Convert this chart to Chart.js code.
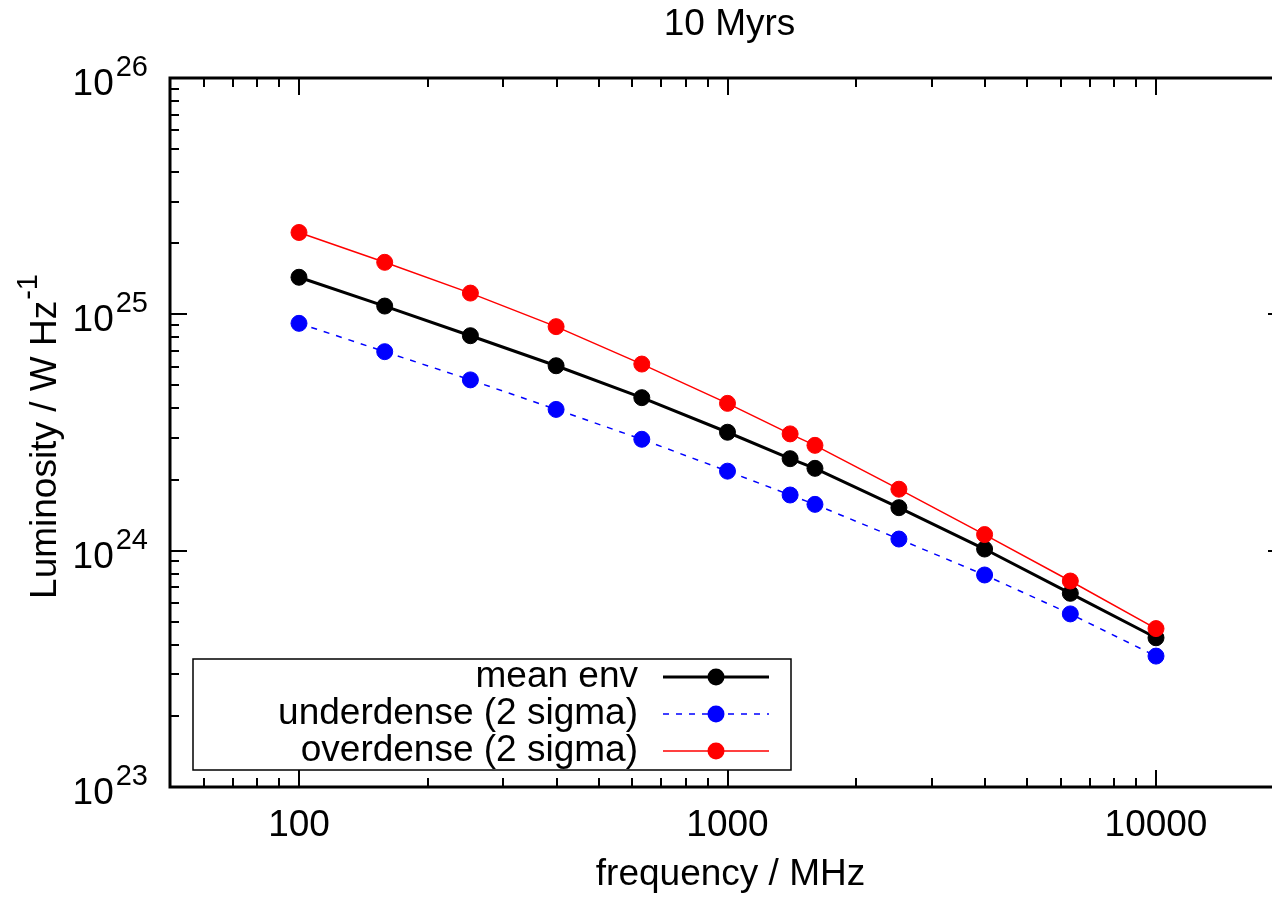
<!doctype html>
<html lang="en">
<head>
  <meta charset="utf-8">
  <title>10 Myrs</title>
  <style>
    * {
      margin: 0;
      padding: 0;
    }
    body {
      background: white;
      overflow: hidden;
    }
    .chartBox {
      width: 1300px;
      height: 904px;
    }
  </style>
</head>
<body>
  <div class="chartBox">
    <canvas id="myChart"></canvas>
  </div>

  <script src="https://cdn.jsdelivr.net/npm/chart.js"></script>
  <script>
    // frequencies in MHz
    const freqs = [100, 158.5, 251.2, 398.1, 631, 1000, 1400, 1600, 2512, 3981, 6310, 10000];

    // luminosity in W/Hz for each environment
    const meanEnv    = [1.435e25, 1.084e25, 8.12e24, 6.06e24, 4.44e24, 3.17e24, 2.45e24, 2.23e24, 1.52e24, 1.016e24, 6.60e23, 4.28e23];
    const underdense = [9.16e24, 6.95e24, 5.28e24, 3.96e24, 2.96e24, 2.17e24, 1.72e24, 1.57e24, 1.12e24, 7.89e23, 5.40e23, 3.58e23];
    const overdense  = [2.22e25, 1.66e25, 1.23e25, 8.87e24, 6.16e24, 4.20e24, 3.12e24, 2.79e24, 1.82e24, 1.17e24, 7.44e23, 4.68e23];

    // labelled ticks
    const xTickLabels = [100, 1000, 10000];
    const yTickExps = [23, 24, 25, 26];

    const FONT = "'Liberation Sans', Arial, Helvetica, sans-serif";
    const BIG = '37px ' + FONT;
    const SUP = '29px ' + FONT;

    function points(vals) {
      return freqs.map((f, i) => ({ x: f, y: vals[i] }));
    }

    function series(label, vals, color, width, dash, order) {
      return {
        label: label,
        data: points(vals),
        borderColor: color,
        backgroundColor: color,
        borderWidth: width,
        borderDash: dash,
        pointRadius: 8,
        pointHoverRadius: 8,
        pointBorderWidth: 1,
        pointBackgroundColor: color,
        pointBorderColor: color,
        tension: 0,
        order: order
      };
    }

    // gnuplot style frame, inward ticks, tick labels, titles and key
    const gnuFrame = {
      id: 'gnuFrame',
      afterDraw(chart) {
        const ctx = chart.ctx;
        const a = chart.chartArea;
        const x = chart.scales.x;
        const y = chart.scales.y;
        ctx.save();

        // minor/major ticks on all four sides
        ctx.strokeStyle = 'black';
        ctx.lineWidth = 2;
        ctx.beginPath();
        for (let d = 10; d <= 10000; d *= 10) {
          for (let m = 1; m < 10; m++) {
            const v = m * d;
            if (v < x.min || v > x.max) continue;
            const px = Math.round(x.getPixelForValue(v));
            const len = m === 1 ? 17 : 9;
            ctx.moveTo(px, a.bottom); ctx.lineTo(px, a.bottom - len);
            ctx.moveTo(px, a.top); ctx.lineTo(px, a.top + len);
          }
        }
        for (let e = 23; e <= 26; e++) {
          for (let m = 1; m < 10; m++) {
            const v = m * Math.pow(10, e);
            if (v > y.max * 1.0001) continue;
            const py = Math.round(y.getPixelForValue(v));
            const len = m === 1 ? 17 : 9;
            ctx.moveTo(a.left, py); ctx.lineTo(a.left + len, py);
            ctx.moveTo(a.right, py); ctx.lineTo(a.right - len, py);
          }
        }
        ctx.stroke();

        // border
        ctx.lineWidth = 3;
        ctx.strokeRect(a.left, a.top, a.right - a.left, a.bottom - a.top);

        ctx.fillStyle = 'black';

        // x tick labels
        ctx.font = BIG;
        ctx.textAlign = 'center';
        ctx.textBaseline = 'alphabetic';
        xTickLabels.forEach(v => {
          ctx.fillText(String(v), x.getPixelForValue(v), a.bottom + 49);
        });

        // y tick labels: 10^n
        yTickExps.forEach(e => {
          const py = y.getPixelForValue(Math.pow(10, e));
          ctx.textAlign = 'right';
          ctx.font = SUP;
          const expW = ctx.measureText(String(e)).width;
          ctx.fillText(String(e), 148, py - 2);
          ctx.font = BIG;
          ctx.fillText('10', 148 - expW - 2, py + 17);
        });

        const cx = (a.left + a.right) / 2;

        // title
        ctx.textAlign = 'center';
        ctx.font = BIG;
        ctx.fillText('10 Myrs', cx + 2, 35);

        // x axis title
        ctx.fillText('frequency / MHz', cx + 3, a.bottom + 98);

        // y axis title with superscript
        ctx.save();
        ctx.translate(56, 437);
        ctx.rotate(-Math.PI / 2);
        ctx.textAlign = 'left';
        ctx.font = BIG;
        const base = 'Luminosity / W Hz';
        const baseW = ctx.measureText(base).width;
        ctx.font = SUP;
        const supW = ctx.measureText('-1').width;
        const start = -(baseW + supW) / 2;
        ctx.font = BIG;
        ctx.fillText(base, start, 0);
        ctx.font = SUP;
        ctx.fillText('-1', start + baseW + 1, -19);
        ctx.restore();

        // key
        const box = { left: 193, top: 659, right: 791, bottom: 770 };
        ctx.fillStyle = 'white';
        ctx.fillRect(box.left, box.top, box.right - box.left, box.bottom - box.top);
        ctx.lineWidth = 1.5;
        ctx.strokeStyle = 'black';
        ctx.setLineDash([]);
        ctx.strokeRect(box.left, box.top, box.right - box.left, box.bottom - box.top);

        const keyOrder = [0, 1, 2];
        keyOrder.forEach((idx, row) => {
          const ds = chart.data.datasets[idx];
          const ry = 677 + row * 37;
          ctx.fillStyle = 'black';
          ctx.font = BIG;
          ctx.textAlign = 'right';
          ctx.textBaseline = 'middle';
          ctx.fillText(ds.label, 638, ry);

          ctx.strokeStyle = ds.borderColor;
          ctx.lineWidth = ds.borderWidth;
          ctx.setLineDash(ds.borderDash || []);
          ctx.beginPath();
          ctx.moveTo(663, ry);
          ctx.lineTo(769, ry);
          ctx.stroke();
          ctx.setLineDash([]);

          ctx.fillStyle = ds.pointBackgroundColor;
          ctx.beginPath();
          ctx.arc(716, ry, 8.5, 0, Math.PI * 2);
          ctx.fill();
        });

        ctx.restore();
      }
    };

    const data = {
      datasets: [
        series('mean env', meanEnv, 'black', 3, [], 3),
        series('underdense (2 sigma)', underdense, 'blue', 1.5, [6, 7], 2),
        series('overdense (2 sigma)', overdense, 'red', 1.5, [], 1)
      ]
    };

    const config = {
      type: 'line',
      data,
      options: {
        responsive: true,
        maintainAspectRatio: false,
        animation: false,
        events: [],
        layout: {
          padding: { top: 78, right: 15, left: 0, bottom: 0 }
        },
        scales: {
          x: {
            type: 'logarithmic',
            min: 50,
            max: 20000,
            grid: { display: false },
            border: { display: false },
            ticks: { display: false },
            afterFit: (scale) => { scale.height = 117; }
          },
          y: {
            type: 'logarithmic',
            min: 1e23,
            max: 1e26,
            grid: { display: false },
            border: { display: false },
            ticks: { display: false },
            afterFit: (scale) => { scale.width = 170; }
          }
        },
        plugins: {
          legend: { display: false },
          title: { display: false },
          tooltip: { enabled: false }
        }
      },
      plugins: [gnuFrame]
    };

    const myChart = new Chart(document.getElementById('myChart'), config);
  </script>
</body>
</html>
